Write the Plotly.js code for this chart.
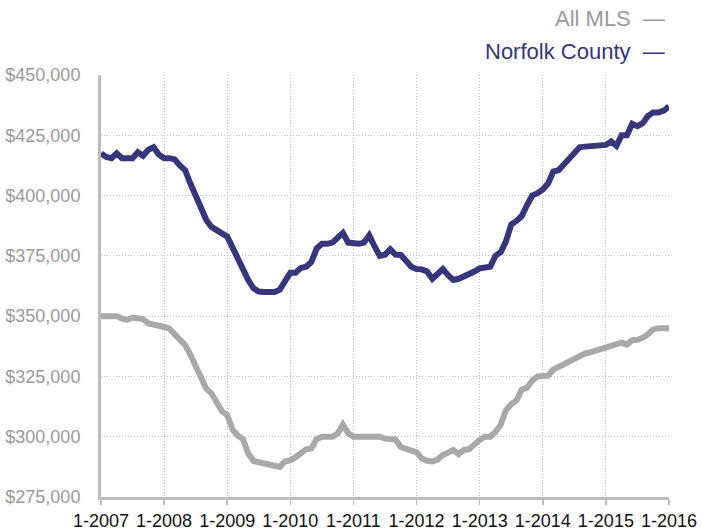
<!DOCTYPE html>
<html>
<head>
<meta charset="utf-8">
<script src="https://cdn.plot.ly/plotly-3.0.1.min.js"></script>
<style>
html,body{margin:0;padding:0;background:#fff;}
#chart{width:702px;height:531px;}
</style>
</head>
<body>
<div id="chart"></div>
<script>
// Monthly values, Jan 2007 .. Jan 2016 (thousands of dollars)
var startYear = 2007;
var norfolkCounty = [
  417.5,416,415.5,417.5,415.5,415.5,415.5,418,416.5,419,420,417,
  415.5,415.5,415,412.5,410.5,405,400,395,390,387,385.5,384.5,
  383,378.5,374,369,365,361.5,360.2,360,360,360,361,365,
  368,368,370,370.5,372.5,378,380,380,380.5,382.5,384.5,380.5,
  380,380,380.5,383.5,379,375,375.5,377.7,375.5,375.4,373,370.5,
  369.5,369.4,368.5,365.5,367.5,369.5,367,365,365.5,366.5,367,368.5,
  369.8,370,370.5,375,376.5,381,388,389.5,391.5,396,400,401,
  402.5,405,410,410.5,413,415.5,418,420,420.3,420.5,420.7,420.3,
  421,422.4,420.6,425,425,429.8,428.8,430,433,434.5,434.5,435.2,
  437
];
var allMLS = [
  350,350,350,350,349,348.5,349.4,349.4,348.8,347,346.2,346,
  345.5,344.8,342.5,340,338,334,329,324,320,318,314,310.5,
  309,303,300.5,299,293,290,289.4,288.8,288.5,287.8,287.5,289.8,
  290.2,291.5,293.5,294.8,295.1,299,300,300,300,301.3,305,301.4,
  300,300,300,300,300,300,299.2,299,298.8,295.7,294.8,294.5,
  293.5,291,290,289.7,290.5,292.4,293.5,294.5,292.8,294.5,294.8,297,
  298.7,300,300,302,305,311,313.5,315,319.5,320.3,323.3,325,
  325.2,325.3,327.8,329,329.8,331,332.8,334,334.5,335,335.7,336.2,
  337.3,338,338.7,339,338.2,340,340.2,341,342.5,344.5,345,345,
  345
];
var tickLabels = ["1-2007","1-2008","1-2009","1-2010","1-2011","1-2012","1-2013","1-2014","1-2015","1-2016"];
var legendNames = ["All MLS","Norfolk County"];

var months = norfolkCounty.map(function(_, i){ return i; });
var tickVals = tickLabels.map(function(_, i){ return i * 12; });
var toDollars = function(v){ return v * 1000; };

var navy = '#36367a';
var gray = '#a9a9a9';

var traces = [
  {x: months, y: allMLS.map(toDollars), type: 'scatter', mode: 'lines', name: legendNames[0],
   line: {color: gray, width: 6, shape: 'linear'}, hoverinfo: 'skip'},
  {x: months, y: norfolkCounty.map(toDollars), type: 'scatter', mode: 'lines', name: legendNames[1],
   line: {color: navy, width: 6, shape: 'linear'}, hoverinfo: 'skip'}
];

var fontFam = '"Liberation Sans", Arial, Helvetica, sans-serif';
var xr = function(px){ return (px - 101) / 568; };
var yr = function(py){ return (497 - py) / 422; };

var layout = {
  width: 702, height: 531,
  margin: {l: 101, r: 33, t: 75, b: 34, pad: 0},
  paper_bgcolor: '#fff', plot_bgcolor: '#fff',
  showlegend: false,
  font: {family: fontFam},
  xaxis: {
    range: [0, 108], tickvals: tickVals, ticktext: tickLabels,
    showgrid: true, gridcolor: '#bdbdbd', griddash: '1px,2px', gridwidth: 1,
    showline: true, linecolor: '#bdbdbd', linewidth: 3,
    ticks: 'outside', ticklen: 5, tickcolor: '#bdbdbd', tickwidth: 1.5,
    tickfont: {size: 18, color: '#111', family: fontFam},
    zeroline: false, fixedrange: true
  },
  yaxis: {
    range: [275000, 450000], dtick: 25000, tick0: 275000,
    tickformat: '$,.0f',
    showgrid: true, gridcolor: '#bdbdbd', griddash: '1px,2px', gridwidth: 1,
    showline: true, linecolor: '#bdbdbd', linewidth: 3,
    ticks: '', ticklabelstandoff: 14,
    tickfont: {size: 18, color: '#9a9a9a', family: fontFam},
    zeroline: false, fixedrange: true
  },
  annotations: [
    {xref: 'paper', yref: 'paper', x: xr(667), y: yr(19), xanchor: 'right', yanchor: 'middle',
     text: legendNames[0] + '  \u2014', showarrow: false,
     font: {size: 22, color: '#9a9a9a', family: fontFam}},
    {xref: 'paper', yref: 'paper', x: xr(667), y: yr(51), xanchor: 'right', yanchor: 'middle',
     text: legendNames[1] + '  \u2014', showarrow: false,
     font: {size: 22, color: navy, family: fontFam}}
  ]
};

Plotly.newPlot('chart', traces, layout, {displayModeBar: false, staticPlot: true});
</script>
</body>
</html>
